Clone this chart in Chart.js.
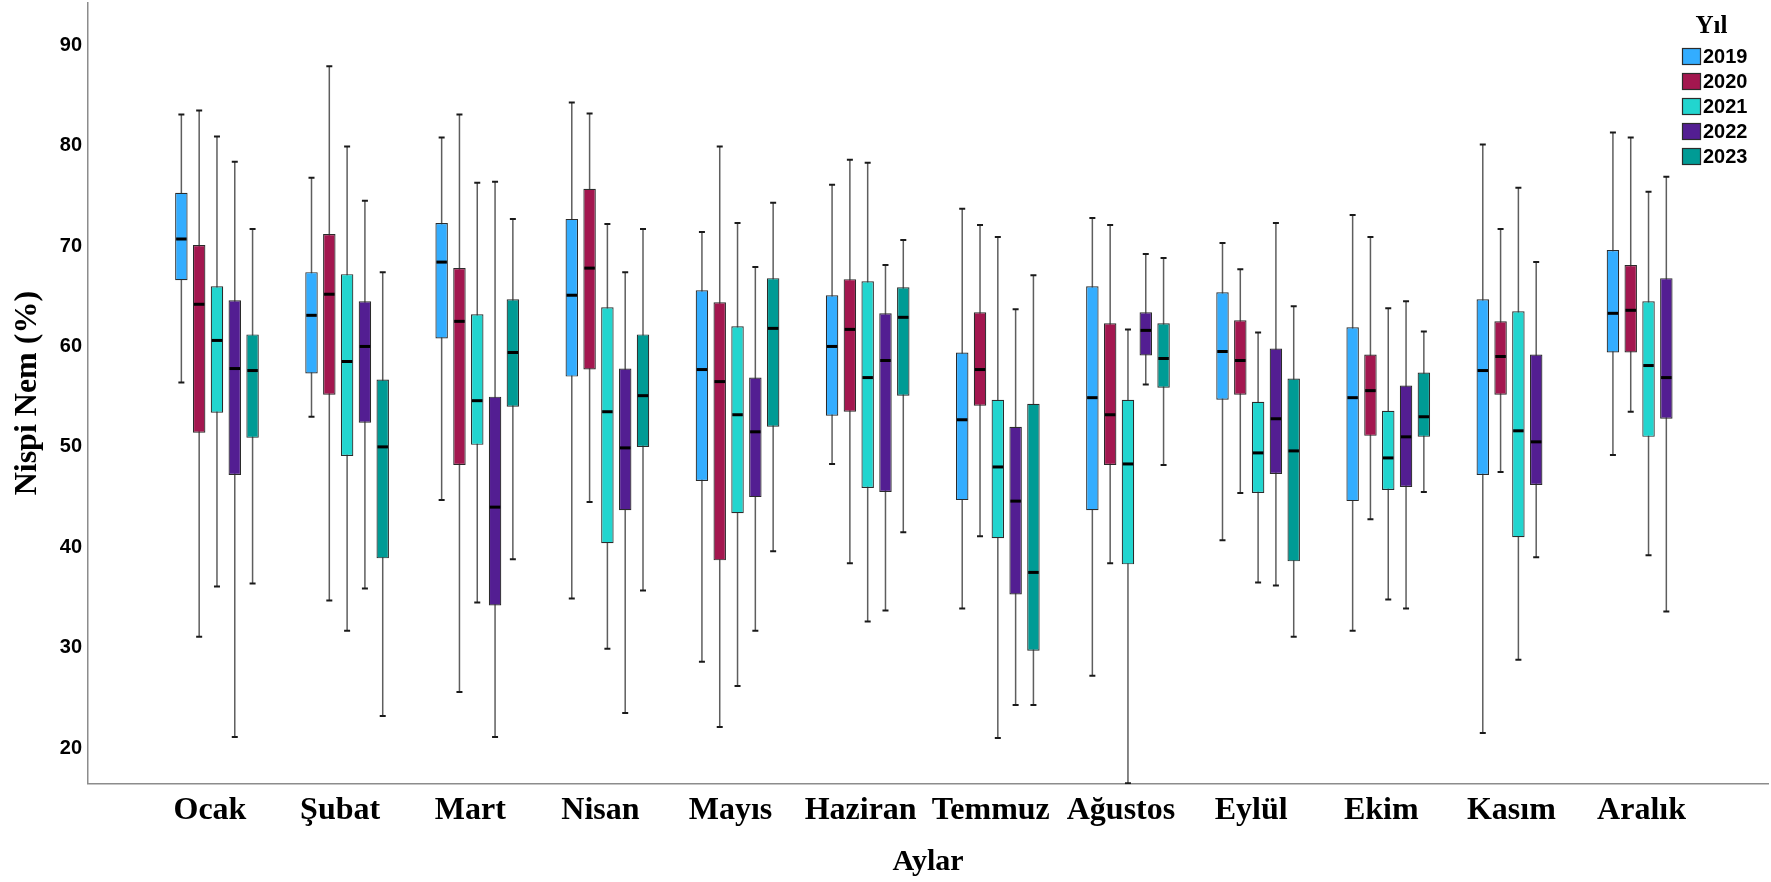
<!DOCTYPE html>
<html lang="tr">
<head>
<meta charset="utf-8">
<title>Aylık Nispi Nem (2019-2023)</title>
<script src="https://cdn.jsdelivr.net/npm/chart.js"></script>
<style>
  html, body { margin: 0; padding: 0; background: #fff; }
  #wrap { width: 1771px; height: 882px; position: relative; }
</style>
</head>
<body>
<div id="wrap"><canvas id="nemChart"></canvas></div>
<script>
// ============ Data ============
const months = ['Ocak', 'Şubat', 'Mart', 'Nisan', 'Mayıs', 'Haziran',
                'Temmuz', 'Ağustos', 'Eylül', 'Ekim', 'Kasım', 'Aralık'];
const years = ['2019', '2020', '2021', '2022', '2023'];
const yTicks = [20, 30, 40, 50, 60, 70, 80, 90];

// one row per year, one column per month (null = no record)
const whiskerHigh = [
    [83.1, 76.8, 80.8, 84.3, 71.4, 76.1, 73.7, 72.8, 70.3, 73.1, 80.1, 81.3],
    [83.5, 87.9, 83.1, 83.2, 79.9, 78.6, 72.1, 72.1, 67.7, 70.9, 71.7, 80.8],
    [80.9, 79.9, 76.3, 72.2, 72.3, 78.3, 70.9, 61.7, 61.4, 63.8, 75.8, 75.4],
    [78.4, 74.5, 76.4, 67.4, 67.9, 68.1, 63.7, 69.2, 72.3, 64.5, 68.4, 76.9],
    [71.7, 67.4, 72.7, 71.7, 74.3, 70.6, 67.1, 68.8, 64.0, 61.5, null, null]
];
const q3 = [
    [75.3, 67.4, 72.3, 72.7, 65.6, 65.1, 59.4, 66.0, 65.4, 61.9, 64.7, 69.6],
    [70.1, 71.2, 67.8, 75.7, 64.4, 66.7, 63.4, 62.3, 62.6, 59.2, 62.5, 68.1],
    [66.0, 67.2, 63.2, 63.9, 62.0, 66.5, 54.7, 54.7, 54.5, 53.6, 63.5, 64.5],
    [64.6, 64.5, 55.0, 57.8, 56.9, 63.3, 52.0, 63.4, 59.8, 56.1, 59.2, 66.8],
    [61.2, 56.7, 64.7, 61.2, 66.8, 65.9, 54.3, 62.3, 56.8, 57.4, null, null]
];
const median = [
    [70.7, 63.1, 68.4, 65.1, 57.7, 60.0, 52.7, 54.9, 59.5, 54.9, 57.6, 63.3],
    [64.2, 65.2, 62.5, 67.8, 56.5, 61.7, 57.7, 53.2, 58.6, 55.6, 59.0, 63.6],
    [60.6, 58.5, 54.6, 53.5, 53.2, 56.9, 48.0, 48.3, 49.4, 48.9, 51.6, 58.1],
    [57.8, 60.0, 44.0, 49.9, 51.5, 58.6, 44.6, 61.6, 52.8, 51.0, 50.5, 56.9],
    [57.6, 50.0, 59.4, 55.1, 61.8, 62.9, 37.5, 58.8, 49.6, 53.0, null, null]
];
const q1 = [
    [66.6, 57.3, 60.8, 57.0, 46.6, 53.1, 44.7, 43.7, 54.7, 44.6, 47.2, 59.4],
    [51.4, 55.2, 48.2, 57.7, 38.7, 53.5, 54.1, 48.2, 55.2, 51.1, 55.2, 59.4],
    [53.4, 49.1, 50.2, 40.4, 43.4, 45.9, 40.9, 38.3, 45.4, 45.7, 41.0, 51.0],
    [47.2, 52.4, 34.2, 43.7, 45.0, 45.5, 35.3, 59.1, 47.3, 46.0, 46.2, 52.8],
    [50.9, 38.9, 54.0, 50.0, 52.0, 55.1, 29.7, 55.9, 38.6, 51.0, null, null]
];
const whiskerLow = [
    [56.4, 53.0, 44.7, 34.9, 28.6, 48.3, 33.9, 27.2, 40.7, 31.7, 21.5, 49.2],
    [31.1, 34.7, 25.6, 44.5, 22.1, 38.4, 41.1, 38.4, 45.4, 42.8, 47.5, 53.5],
    [36.1, 31.7, 34.5, 29.9, 26.2, 32.6, 21.0, 16.5, 36.5, 34.8, 28.8, 39.2],
    [21.1, 35.9, 21.1, 23.5, 31.7, 33.7, 24.3, 56.2, 36.2, 33.9, 39.0, 33.6],
    [36.4, 23.2, 38.8, 35.7, 39.6, 41.5, 24.3, 48.2, 31.1, 45.5, null, null]
];

// ============ Styles ============
const yearColors = ['#33adff', '#a3174f', '#22d5cf', '#531e92', '#009b95'];
const SERIF = '"Liberation Serif", "Times New Roman", serif';
const SANS = '"Liberation Sans", Arial, sans-serif';
const BOX_EDGE = '#2b2b2b';
const AXIS_COLOR = '#8c8c8c';

// ============ Whiskers + medians ============
function strokeLine(ctx, x1, y1, x2, y2) {
    ctx.beginPath();
    ctx.moveTo(x1, y1);
    ctx.lineTo(x2, y2);
    ctx.stroke();
}

const boxParts = {
    id: 'boxParts',
    beforeDatasetsDraw(chart) {
        const { ctx, chartArea, scales: { y } } = chart;
        ctx.save();
        ctx.beginPath();
        ctx.rect(chartArea.left, chartArea.top, chartArea.right - chartArea.left, chartArea.bottom - chartArea.top + 1);
        ctx.clip();
        chart.data.datasets.forEach((ds, d) => {
            chart.getDatasetMeta(d).data.forEach((bar, m) => {
                const hi = whiskerHigh[d][m];
                const lo = whiskerLow[d][m];
                if (hi == null || lo == null) return;
                const x = bar.x;
                const yHi = y.getPixelForValue(hi);
                const yLo = y.getPixelForValue(lo);
                ctx.strokeStyle = '#5e5e5e';
                ctx.lineWidth = 1.5;
                strokeLine(ctx, x, yHi, x, yLo);
                ctx.strokeStyle = '#1a1a1a';
                ctx.lineWidth = 2;
                strokeLine(ctx, x - 3, yHi, x + 3, yHi);
                strokeLine(ctx, x - 3, yLo, x + 3, yLo);
            });
        });
        ctx.restore();
    },
    afterDatasetsDraw(chart) {
        const { ctx, scales: { y } } = chart;
        ctx.save();
        ctx.strokeStyle = '#000';
        ctx.lineWidth = 3;
        chart.data.datasets.forEach((ds, d) => {
            chart.getDatasetMeta(d).data.forEach((bar, m) => {
                const md = median[d][m];
                if (md == null) return;
                const py = y.getPixelForValue(md);
                strokeLine(ctx, bar.x - bar.width / 2 + 1, py, bar.x + bar.width / 2 - 1, py);
            });
        });
        ctx.restore();
    }
};

// ============ Legend (top right, inside plot) ============
const yearLegend = {
    id: 'yearLegend',
    afterDraw(chart) {
        const { ctx } = chart;
        const left = 1682;
        const top = 48;
        const rowH = 25;
        ctx.save();
        ctx.fillStyle = '#000';
        ctx.textAlign = 'center';
        ctx.textBaseline = 'middle';
        ctx.font = `bold 25px ${SERIF}`;
        ctx.fillText('Yıl', 1711.5, 27);
        ctx.textAlign = 'left';
        ctx.font = `bold 20px ${SANS}`;
        chart.data.datasets.forEach((ds, d) => {
            const yy = top + d * rowH;
            ctx.fillStyle = ds.backgroundColor;
            ctx.fillRect(left, yy, 19, 17);
            ctx.strokeStyle = BOX_EDGE;
            ctx.lineWidth = 1.2;
            ctx.strokeRect(left + 0.5, yy + 0.5, 18, 16);
            ctx.fillStyle = '#000';
            ctx.fillText(ds.label, left + 21, yy + 9.5);
        });
        ctx.restore();
    }
};

// ============ Chart ============
const ctx = document.getElementById('nemChart').getContext('2d');

new Chart(ctx, {
    type: 'bar',
    data: {
        datasets: years.map((yr, d) => ({
            label: yr,
            data: months.map((_, m) => ({
                x: m,
                y: q1[d][m] == null ? null : [q1[d][m], q3[d][m]]
            })),
            backgroundColor: yearColors[d],
            borderColor: BOX_EDGE,
            borderWidth: 1.2,
            borderSkipped: false,
            categoryPercentage: 0.684,
            barPercentage: 0.70
        }))
    },
    options: {
        responsive: true,
        maintainAspectRatio: false,
        animation: false,
        layout: { padding: { top: 3, right: 3, left: 0, bottom: 0 } },
        plugins: {
            legend: { display: false },
            tooltip: { enabled: false }
        },
        scales: {
            x: {
                type: 'linear',
                min: -0.991,
                max: 11.918,
                offset: false,
                grid: { display: false, drawTicks: false },
                border: { display: true, color: AXIS_COLOR, width: 1.5 },
                afterBuildTicks: (scale) => { scale.ticks = months.map((_, i) => ({ value: i })); },
                afterFit: (scale) => {
                    scale.height = 98.7;
                    scale.paddingLeft = 0;
                    scale.paddingRight = 0;
                },
                ticks: {
                    autoSkip: false,
                    maxRotation: 0,
                    padding: 8,
                    labelOffset: -7,
                    color: '#000',
                    font: { family: SERIF, size: 32, weight: 'bold' },
                    callback: (v) => months[v]
                },
                title: {
                    display: true,
                    text: 'Aylar',
                    color: '#000',
                    font: { family: SERIF, size: 30, weight: 'bold' },
                    padding: { top: 0, bottom: 2 }
                }
            },
            y: {
                min: 16.5,
                max: 94.2,
                grid: { display: false, drawTicks: false },
                border: { display: true, color: AXIS_COLOR, width: 1.5 },
                afterBuildTicks: (scale) => { scale.ticks = yTicks.map(v => ({ value: v })); },
                afterFit: (scale) => {
                    // labels never sit on the ends, so no overhang padding
                    scale.width = 88;
                    scale.paddingTop = 0;
                    scale.paddingBottom = 0;
                },
                ticks: {
                    padding: 6,
                    color: '#000',
                    font: { family: SANS, size: 20, weight: 'bold' }
                },
                title: {
                    display: true,
                    text: 'Nispi Nem (%)',
                    color: '#000',
                    font: { family: SERIF, size: 32, weight: 'bold' },
                    padding: { top: 9, bottom: 0 }
                }
            }
        }
    },
    plugins: [boxParts, yearLegend]
});
</script>
</body>
</html>
